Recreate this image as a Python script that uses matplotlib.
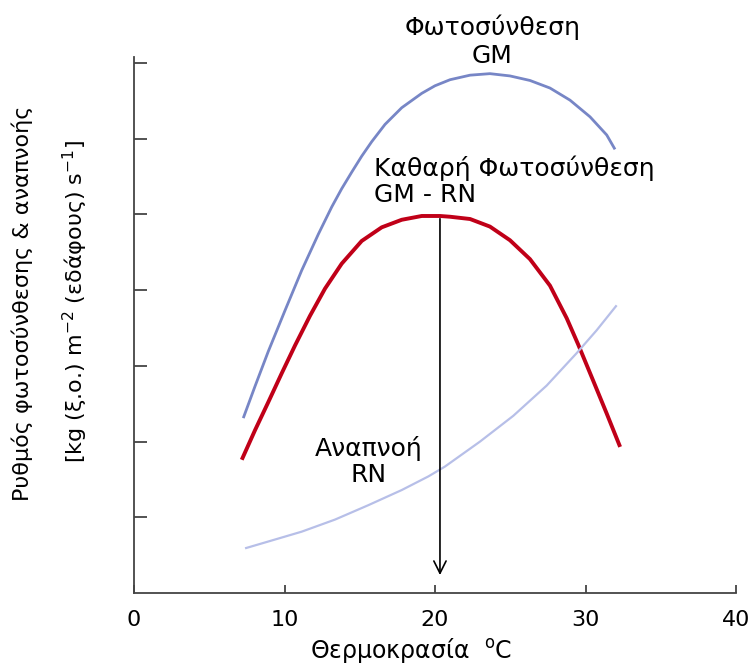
import numpy as np
import matplotlib.pyplot as plt

plt.rcParams['font.family'] = ['DejaVu Sans']
plt.rcParams['mathtext.fontset'] = 'custom'
plt.rcParams['mathtext.rm'] = 'DejaVu Sans'
plt.rcParams['mathtext.it'] = 'DejaVu Sans'

# gross photosynthesis GM
gmT = [7.26, 8.04, 8.92, 10.03, 11.14, 12.25, 13.14, 13.80, 14.47, 15.13, 15.79, 16.68, 17.79,
       19.12, 20.0, 21.0, 22.33, 23.65, 24.98, 26.31, 27.64, 28.97, 30.30, 31.41, 31.96]
gmRate = [2.31, 2.73, 3.19, 3.73, 4.26, 4.74, 5.10, 5.34, 5.56, 5.77, 5.96, 6.19, 6.41,
          6.60, 6.70, 6.78, 6.84, 6.86, 6.83, 6.77, 6.67, 6.51, 6.29, 6.05, 5.86]

# net photosynthesis GM - RN
netT = [7.16, 8.04, 8.92, 9.81, 10.70, 11.69, 12.69, 13.80, 15.13, 16.46, 17.79, 19.12, 20.33,
        21.0, 22.33, 23.65, 24.98, 26.31, 27.64, 28.75, 29.52, 30.52, 31.41, 32.30]
netRate = [1.76, 2.15, 2.52, 2.90, 3.27, 3.66, 4.02, 4.35, 4.65, 4.83, 4.93, 4.98, 4.98,
           4.97, 4.94, 4.84, 4.66, 4.41, 4.06, 3.63, 3.28, 2.80, 2.37, 1.93]

# respiration RN
rnT = [7.38, 8.92, 11.14, 13.36, 15.57, 17.79, 19.56, 20.66, 22.99, 25.20, 27.42, 29.42, 30.74, 32.07]
rnRate = [0.59, 0.68, 0.81, 0.97, 1.16, 1.36, 1.54, 1.67, 2.00, 2.34, 2.74, 3.17, 3.47, 3.80]

# optimum temperature arrow
optT = 20.33
optTop = 4.98
optBottom = 0.2

xTicks = [0, 10, 20, 30, 40]
yTicks = [1, 2, 3, 4, 5, 6, 7]

fig = plt.figure(figsize=(7.53, 6.68), dpi=100)
ax = fig.add_axes([134/753, 75/668, 602/753, 536/668])

ax.plot(gmT, gmRate, color='#7786c6', lw=2.0, solid_capstyle='butt', solid_joinstyle='round')
ax.plot(netT, netRate, color='#c00018', lw=2.8, solid_capstyle='butt', solid_joinstyle='round')
ax.plot(rnT, rnRate, color='#b7bfe8', lw=1.6, solid_capstyle='butt', solid_joinstyle='round')

ax.annotate('', xy=(optT, optBottom), xytext=(optT, optTop),
            arrowprops=dict(arrowstyle='->', color='black', lw=1.2, mutation_scale=22))

#labels on the curves
ax.text(23.8, 7.29, 'Φωτοσύνθεση\nGM', ha='center', va='center', fontsize=18,
        linespacing=1.2, clip_on=False)
ax.text(15.95, 5.44, 'Καθαρή Φωτοσύνθεση\nGM - RN', ha='left', va='center', fontsize=18,
        linespacing=1.1, multialignment='left')
ax.text(15.6, 1.74, 'Αναπνοή\nRN', ha='center', va='center', fontsize=18, linespacing=1.1)

ax.set_xlim(0, 40)
ax.set_ylim(0, 7.08)
ax.set_xticks(xTicks)
ax.set_xticklabels([str(t) for t in xTicks], fontsize=16)
ax.set_yticks(yTicks)
ax.set_yticklabels([])
ax.tick_params(axis='x', direction='in', length=6, width=1.3, color='#444444', pad=12)
ax.tick_params(axis='y', direction='in', length=9, width=1.3, color='#444444')

for side in ['top', 'right']:
    ax.spines[side].set_visible(False)
for side in ['left', 'bottom']:
    ax.spines[side].set_color('#444444')
    ax.spines[side].set_linewidth(1.3)

ax.set_xlabel('Θερμοκρασία  $^{\\mathrm{o}}$C', fontsize=17, va='center')
ax.xaxis.set_label_coords(0.46, -0.107)

fig.text(22/753, 1 - 303/668, 'Ρυθμός φωτοσύνθεσης & αναπνοής', rotation=90,
         ha='center', va='center', fontsize=16)
fig.text(75/753, 1 - 302/668, '[kg (ξ.ο.) m$^{\\mathrm{-2}}$ (εδάφους) s$^{\\mathrm{-1}}$]', rotation=90,
         ha='center', va='center', fontsize=16)

plt.savefig('out.png', dpi=100)
